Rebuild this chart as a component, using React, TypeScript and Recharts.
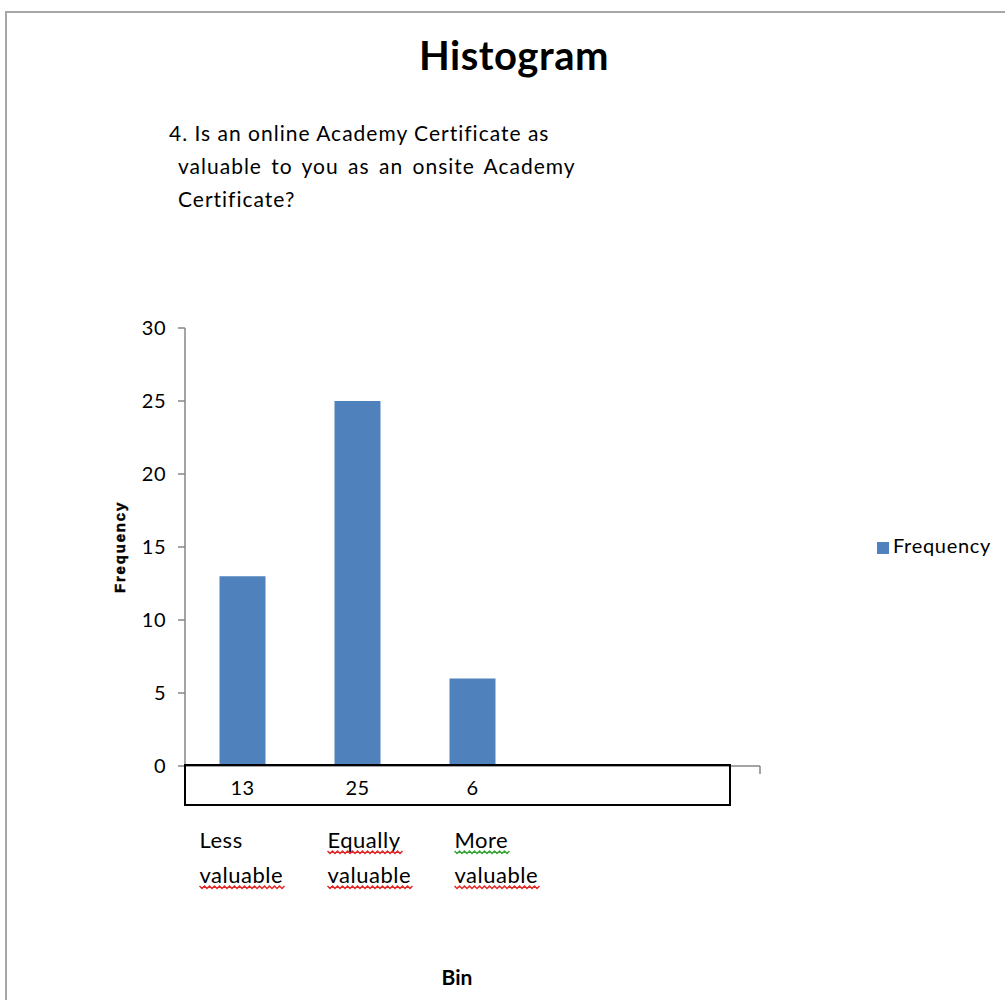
import React from 'react';
import { BarChart, Bar, XAxis, YAxis, Legend } from 'recharts';

// ---------- data ----------
const bins = ['Less valuable', 'Equally valuable', 'More valuable', '', ' '];
const frequencies: (number | null)[] = [13, 25, 6, null, null];
const yTicks = [0, 5, 10, 15, 20, 25, 30];
const chartTitle = 'Histogram';
const questionLines = [
  '4. Is an online Academy Certificate as',
  'valuable to you as an onsite Academy',
  'Certificate?',
];
const xAxisTitle = 'Bin';
const yAxisTitle = 'Frequency';
const seriesName = 'Frequency';
const spellMarks: Record<string, string> = { valuable: '#e02a2a', Equally: '#e02a2a', More: '#3aa63a' };

const data = bins.map((bin, i) => ({ bin, frequency: frequencies[i] }));

// ---------- layout ----------
const W = 1005;
const H = 1000;
const PLOT_LEFT = 185;
const PLOT_RIGHT = 760;
const PLOT_TOP = 328;
const PLOT_BOTTOM = 766;
const Y_AXIS_W = 60;
const X_AXIS_H = 200;
const FONT = 'Lato, "Noto Sans", sans-serif';
const AXIS_COLOR = '#868686';
const BAR_COLOR = '#4F81BD';
const labelOffsets = [-43, -30, -18, 0, 0];
const LABEL_SIZE = 22;
const LABEL_SPACING = 0.5;

let measureCtx: CanvasRenderingContext2D | null = null;
function textWidth(t: string, font: string): number {
  if (typeof document === 'undefined') return t.length * 10;
  if (!measureCtx) measureCtx = document.createElement('canvas').getContext('2d');
  if (!measureCtx) return t.length * 10;
  measureCtx.font = font;
  return measureCtx.measureText(t).width;
}

function wavePath(x0: number, y0: number, w: number): string {
  let d = `M${x0},${y0}`;
  let k = 0;
  for (let x = x0 + 2.5; x <= x0 + w; x += 2.5) {
    k++;
    d += ` L${x},${y0 + (k % 2 ? 2.5 : 0)}`;
  }
  return d;
}

function BinTick(props: any) {
  const { x, y, index } = props;
  const v = frequencies[index];
  const label = bins[index].trim();
  const words = label ? label.split(' ') : [];
  const band = (PLOT_RIGHT - PLOT_LEFT) / bins.length;
  const labelFont = `${LABEL_SIZE}px Lato`;
  return (
    <g>
      {v != null && (
        <text x={x} y={y + 29} textAnchor="middle" fontFamily={FONT} fontSize={20} fill="#000" letterSpacing={0.5}>
          {v}
        </text>
      )}
      {words.map((w, j) => {
        const tx = x + labelOffsets[index];
        const ty = y + 82 + j * 35;
        const ww = textWidth(w, labelFont) + w.length * LABEL_SPACING + 3;
        return (
          <g key={j}>
            <text x={tx} y={ty} fontFamily={FONT} fontSize={LABEL_SIZE} fill="#000" letterSpacing={LABEL_SPACING}>
              {w}
            </text>
            {spellMarks[w] && (
              <path d={wavePath(tx, ty + 3, ww)} fill="none" stroke={spellMarks[w]} strokeWidth={1.5} />
            )}
          </g>
        );
      })}
      {index === bins.length - 1 && (
        <line x1={x + band / 2} x2={x + band / 2} y1={y} y2={y + 8} stroke={AXIS_COLOR} strokeWidth={1.5} />
      )}
    </g>
  );
}

function YTitle(props: any) {
  const vb = props.viewBox || { x: PLOT_LEFT - Y_AXIS_W, y: PLOT_TOP, width: Y_AXIS_W, height: PLOT_BOTTOM - PLOT_TOP };
  const cx = vb.x - 6;
  const cy = vb.y + vb.height / 2;
  return (
    <text
      x={cx}
      y={cy}
      transform={`rotate(-90, ${cx}, ${cy})`}
      textAnchor="middle"
      dominantBaseline="central"
      fontFamily='"Liberation Sans", Arial, sans-serif'
      fontWeight="bold"
      fontSize={15}
      letterSpacing={1.8}
      fill="#000"
      stroke="#000"
      strokeWidth={0.5}
    >
      {yAxisTitle}
    </text>
  );
}

function XTitle(props: any) {
  const vb = props.viewBox || { x: PLOT_LEFT, y: PLOT_BOTTOM, width: PLOT_RIGHT - PLOT_LEFT, height: X_AXIS_H };
  return (
    <text x={vb.x + 272} y={vb.y + 219} textAnchor="middle" fontFamily={FONT} fontWeight="bold" fontSize={21} fill="#000">
      {xAxisTitle}
    </text>
  );
}

export default function App() {
  return (
    <div style={{ position: 'absolute', left: 0, top: 0, width: W, height: H, overflow: 'hidden', background: '#fff' }}>
      {/* chart frame */}
      <div
        style={{
          position: 'absolute',
          left: 5,
          top: 11,
          width: 1200,
          height: 1200,
          border: '2px solid #a6a6a6',
          boxSizing: 'border-box',
        }}
      />
      {/* title */}
      <div
        style={{
          position: 'absolute',
          left: 0,
          width: 1028,
          top: 31,
          textAlign: 'center',
          fontFamily: FONT,
          fontWeight: 'bold',
          fontSize: 40,
          lineHeight: '48px',
          color: '#000',
          letterSpacing: 0.5,
        }}
      >
        {chartTitle}
      </div>
      {/* question text box */}
      <div
        style={{
          position: 'absolute',
          left: 169,
          top: 116,
          fontFamily: FONT,
          fontSize: 21,
          lineHeight: '33px',
          color: '#000',
          letterSpacing: 1.0,
          whiteSpace: 'pre',
        }}
      >
        {questionLines.map((l, i) => (
          <div key={i} style={{ paddingLeft: i === 0 ? 0 : 9, wordSpacing: i === 1 ? 3 : 0 }}>
            {l}
          </div>
        ))}
      </div>
      <div style={{ position: 'absolute', left: 0, top: 0 }}>
        <BarChart
          width={W}
          height={H}
          data={data}
          margin={{
            top: PLOT_TOP,
            left: PLOT_LEFT - Y_AXIS_W,
            right: W - PLOT_RIGHT,
            bottom: H - PLOT_BOTTOM - X_AXIS_H,
          }}
          barCategoryGap="30%"
        >
          <YAxis
            width={Y_AXIS_W}
            domain={[0, 30]}
            ticks={yTicks}
            interval={0}
            tickSize={7}
            tickMargin={12}
            axisLine={{ stroke: AXIS_COLOR, strokeWidth: 1.5 }}
            tickLine={{ stroke: AXIS_COLOR, strokeWidth: 1.5 }}
            tick={{ fill: '#000', fontFamily: FONT, fontSize: 20, letterSpacing: 0.5 }}
            label={{ content: YTitle }}
          />
          <XAxis
            dataKey="bin"
            height={X_AXIS_H}
            interval={0}
            tickSize={0}
            tickMargin={0}
            tickLine={false}
            axisLine={{ stroke: AXIS_COLOR, strokeWidth: 1.5 }}
            tick={<BinTick />}
            label={{ content: XTitle }}
          />
          <Legend
            layout="horizontal"
            verticalAlign="middle"
            align="center"
            iconType="square"
            iconSize={12}
            wrapperStyle={{
              position: 'absolute',
              left: 873,
              top: 533,
              width: 132,
              textAlign: 'left',
              fontFamily: FONT,
              fontSize: 20,
              letterSpacing: 0.7,
            }}
            formatter={(v: string) => <span style={{ color: '#000' }}>{v}</span>}
          />
          <Bar dataKey="frequency" name={seriesName} fill={BAR_COLOR} isAnimationActive={false} />
        </BarChart>
      </div>
      {/* data table frame */}
      <div
        style={{
          position: 'absolute',
          left: 184,
          top: 764,
          width: 547,
          height: 42,
          border: '2px solid #000',
          boxSizing: 'border-box',
          pointerEvents: 'none',
        }}
      />
    </div>
  );
}
